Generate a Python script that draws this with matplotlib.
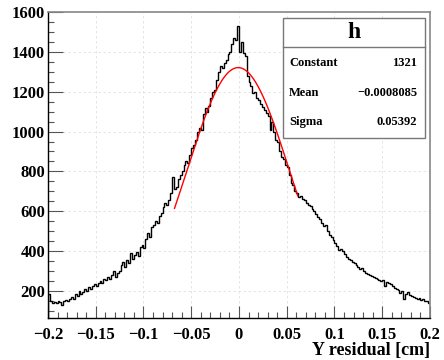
import numpy as np
import matplotlib
matplotlib.use("Agg")
import matplotlib.pyplot as plt
from matplotlib.ticker import MultipleLocator, FixedLocator

# ---- data ----
bin_lo, bin_hi, n_bins = -0.2, 0.2, 200
counts = [
    185, 150, 140, 145, 138, 150, 145, 132, 150, 155,
    148, 160, 172, 158, 185, 175, 200, 185, 195, 210,
    200, 220, 210, 225, 235, 225, 240, 250, 240, 262,
    255, 270, 262, 280, 300, 268, 290, 300, 330, 345,
    320, 355, 340, 390, 360, 380, 395, 375, 420, 430,
    415, 460, 490, 470, 520, 530, 550, 540, 575, 590,
    620, 640, 630, 655, 690, 770, 710, 720, 760, 780,
    800, 830, 850, 840, 880, 920, 935, 960, 1000, 1020,
    1010, 1090, 1120, 1100, 1130, 1170, 1200, 1210, 1260, 1300,
    1330, 1320, 1345, 1360, 1390, 1400, 1440, 1470, 1460, 1530,
    1400, 1450, 1395, 1380, 1280, 1250, 1230, 1195, 1200, 1170,
    1160, 1140, 1125, 1110, 1095, 1080, 1010, 1050, 1000, 960,
    950, 900, 870, 860, 830, 820, 780, 740, 730, 700,
    690, 670, 675, 660, 655, 640, 630, 625, 610, 600,
    585, 570, 560, 540, 525, 530, 500, 480, 470, 455,
    440, 425, 405, 410, 400, 385, 370, 360, 355, 345,
    340, 330, 320, 310, 315, 300, 290, 285, 280, 275,
    270, 265, 260, 255, 250, 255, 225, 245, 240, 235,
    225, 215, 210, 205, 190, 200, 160, 185, 195, 180,
    175, 170, 165, 160, 165, 155, 158, 150, 148, 140,
]
fit_constant = 1321
fit_mean = -0.0008085
fit_sigma = 0.05392
fit_range = (-0.0675, 0.0615)
stat_names = ["Constant", "Mean", "Sigma"]
stat_values = ["1321", "\u22120.0008085", "0.05392"]
x_ticks = [-0.2, -0.15, -0.1, -0.05, 0, 0.05, 0.1, 0.15, 0.2]
x_tick_labels = ["\u22120.2", "\u22120.15", "\u22120.1", "\u22120.05", "0", "0.05", "0.1", "0.15", "0.2"]
y_ticks = [200, 400, 600, 800, 1000, 1200, 1400, 1600]

font = "Liberation Serif"

fig = plt.figure(figsize=(4.44, 3.60), dpi=100)
ax = fig.add_axes([0.108, 0.1158, 0.8605, 0.8509])

edges = np.linspace(bin_lo, bin_hi, n_bins + 1)
ax.stairs(counts, edges, color="black", lw=1.0)

xf = np.linspace(fit_range[0], fit_range[1], 300)
yf = fit_constant * np.exp(-0.5 * ((xf - fit_mean) / fit_sigma) ** 2)
ax.plot(xf, yf, color="red", lw=1.0)

ax.set_xlim(bin_lo, bin_hi)
ax.set_ylim(63, 1600)

ax.xaxis.set_major_locator(FixedLocator(x_ticks))
ax.set_xticklabels(x_tick_labels)
ax.xaxis.set_minor_locator(MultipleLocator(0.01))
ax.yaxis.set_major_locator(FixedLocator(y_ticks))
ax.yaxis.set_minor_locator(MultipleLocator(50))

ax.tick_params(which="both", direction="in", top=False, right=False, color="#555555")
ax.tick_params(which="major", length=9, width=0.8)
ax.tick_params(which="minor", length=4.5, width=0.8)
ax.tick_params(axis="y", which="major", length=11)
for lab in ax.get_xticklabels() + ax.get_yticklabels():
    lab.set_fontfamily(font)
    lab.set_fontweight("bold")
    lab.set_fontsize(12)
ax.tick_params(axis="x", pad=6)
ax.tick_params(axis="y", pad=2)

ax.grid(True, which="major", ls=(0, (3, 3)), color="#e0e0e0", lw=0.6)
ax.set_axisbelow(True)

for s in ["top", "right"]:
    ax.spines[s].set_color("#888888")
    ax.spines[s].set_linewidth(1.2)
for s in ["left", "bottom"]:
    ax.spines[s].set_color("black")
    ax.spines[s].set_linewidth(1.0)

fig.text(430 / 444, 1 - 350 / 360, "Y residual [cm]", ha="right", va="center",
         fontfamily=font, fontweight="bold", fontsize=13)

# stats box
bx0, bx1 = 283 / 444, 425 / 444
by0, by1 = 1 - 138 / 360, 1 - 18 / 360
sep = 1 - 47 / 360
from matplotlib.patches import Rectangle
fig.patches.append(Rectangle((bx0, by0), bx1 - bx0, by1 - by0, transform=fig.transFigure,
                             facecolor="white", edgecolor="#777777", lw=1.0, zorder=5))
fig.lines.append(plt.Line2D([bx0, bx1], [sep, sep], transform=fig.transFigure,
                            color="#777777", lw=1.0, zorder=6))
fig.text((bx0 + bx1) / 2, 1 - 33 / 360, "h", ha="center", va="center",
         fontfamily=font, fontweight="bold", fontsize=17, zorder=7)
row_y = [63, 93, 122]
for name, val, ry in zip(stat_names, stat_values, row_y):
    fig.text(289 / 444, 1 - ry / 360, name, ha="left", va="center",
             fontfamily=font, fontweight="bold", fontsize=9, zorder=7)
    fig.text(417 / 444, 1 - ry / 360, val, ha="right", va="center",
             fontfamily=font, fontweight="bold", fontsize=9, zorder=7)

fig.savefig("out.png", dpi=100)
